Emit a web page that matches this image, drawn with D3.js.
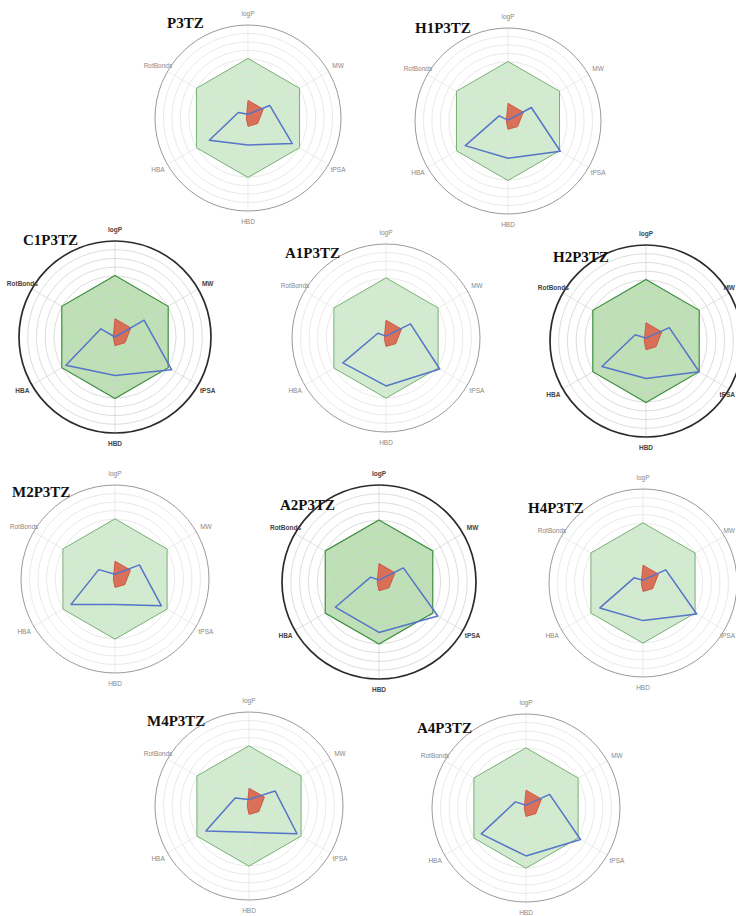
<!DOCTYPE html>
<html>
<head>
<meta charset="utf-8">
<script src="https://cdn.jsdelivr.net/npm/d3@7"></script>
<style>
  html, body { margin: 0; padding: 0; background: #fff; }
  svg { display: block; }
</style>
</head>
<body>
<svg id="chart" width="736" height="916"></svg>
<script>
// Property axes, clockwise from the top
const axes = ["logP", "MW", "tPSA", "HBD", "HBA", "RotBonds"];

// Compounds, one radar each
const compounds = ["P3TZ", "H1P3TZ", "C1P3TZ", "A1P3TZ", "H2P3TZ",
                   "M2P3TZ", "A2P3TZ", "H4P3TZ", "M4P3TZ", "A4P3TZ"];

// Normalised drug-likeness range (same for every compound)
const upperLimit = [0.64, 0.64, 0.64, 0.64, 0.64, 0.64];
const lowerLimit = [0.19, 0.19, 0.12, 0.09, 0.02, 0.02];

// Normalised compound profiles: logP, MW, tPSA, HBD, HBA, RotBonds
const profileP3TZ   = [0.04, 0.27, 0.55, 0.29, 0.48, 0.12];
const profileH1P3TZ = [0.01, 0.29, 0.65, 0.40, 0.53, 0.11];
const profileC1P3TZ = [0.00, 0.35, 0.68, 0.40, 0.59, 0.17];
const profileA1P3TZ = [0.02, 0.30, 0.66, 0.51, 0.53, 0.10];
const profileH2P3TZ = [0.03, 0.28, 0.64, 0.39, 0.53, 0.13];
const profileM2P3TZ = [0.05, 0.30, 0.57, 0.27, 0.54, 0.20];
const profileA2P3TZ = [0.02, 0.29, 0.70, 0.52, 0.52, 0.10];
const profileH4P3TZ = [0.03, 0.28, 0.66, 0.40, 0.53, 0.11];
const profileM4P3TZ = [0.07, 0.32, 0.59, 0.28, 0.53, 0.17];
const profileA4P3TZ = [0.03, 0.29, 0.67, 0.51, 0.55, 0.13];

const profiles = [profileP3TZ, profileH1P3TZ, profileC1P3TZ, profileA1P3TZ, profileH2P3TZ,
                  profileM2P3TZ, profileA2P3TZ, profileH4P3TZ, profileM4P3TZ, profileA4P3TZ];

// Panel placement: centre, radius and title anchor
const panelLayout = [
  { cx: 248, cy: 118, r: 93, tx: 167, ty: 28 },
  { cx: 508, cy: 121, r: 93, tx: 415, ty: 33 },
  { cx: 115, cy: 337, r: 96, tx: 23,  ty: 245 },
  { cx: 386, cy: 338, r: 94, tx: 285, ty: 258 },
  { cx: 646, cy: 341, r: 96, tx: 553, ty: 262 },
  { cx: 115, cy: 579, r: 94, tx: 12,  ty: 497 },
  { cx: 379, cy: 582, r: 97, tx: 280, ty: 510 },
  { cx: 643, cy: 583, r: 94, tx: 528, ty: 513 },
  { cx: 249, cy: 806, r: 94, tx: 147, ty: 726 },
  { cx: 526, cy: 808, r: 94, tx: 417, ty: 733 }
];

// Panels drawn with the heavier black frame
const heavyFrame = new Set(["C1P3TZ", "H2P3TZ", "A2P3TZ"]);

const W = 736;
const ringCount = 11;
const svg = d3.select("#chart");
const angle = d3.scalePoint().domain(axes).range([0, 2 * Math.PI * (axes.length - 1) / axes.length]);

compounds.forEach((name, i) => {
  const L = panelLayout[i];
  const heavy = heavyFrame.has(name);
  const r = d3.scaleLinear().domain([0, 1]).range([0, L.r]);
  const g = svg.append("g").attr("transform", `translate(${L.cx},${L.cy})`);

  const radial = d3.lineRadial()
    .angle((d, k) => angle(axes[k]))
    .radius(d => r(d))
    .curve(d3.curveLinearClosed);

  // upper-limit hexagon (below the grid)
  g.append("path")
    .attr("d", radial(upperLimit))
    .attr("fill", heavy ? "#b9dfb1" : "#cfeacb")
    .attr("fill-opacity", 0.95)
    .attr("stroke", "none");

  // grid rings and spokes
  d3.range(1, ringCount).forEach(k => {
    g.append("circle")
      .attr("r", r(k / ringCount))
      .attr("fill", "none")
      .attr("stroke", heavy ? "#cdcdcd" : "#e0e0e0")
      .attr("stroke-width", 0.7);
  });
  axes.forEach(a => {
    const t = angle(a);
    g.append("line")
      .attr("x1", 0).attr("y1", 0)
      .attr("x2", r(1) * Math.sin(t)).attr("y2", -r(1) * Math.cos(t))
      .attr("stroke", heavy ? "#d2d2d2" : "#e4e4e4")
      .attr("stroke-width", 0.7);
  });

  // upper-limit outline
  g.append("path")
    .attr("d", radial(upperLimit))
    .attr("fill", "none")
    .attr("stroke", heavy ? "#3f8f3f" : "#78b074")
    .attr("stroke-width", heavy ? 1.2 : 1);

  // lower-limit area
  g.append("path")
    .attr("d", radial(lowerLimit))
    .attr("fill", "#d9644c")
    .attr("fill-opacity", 0.9)
    .attr("stroke", "#c94a34")
    .attr("stroke-width", 0.8);

  // compound profile
  g.append("path")
    .attr("d", radial(profiles[i]))
    .attr("fill", "none")
    .attr("stroke", "#5674c8")
    .attr("stroke-width", 1.5)
    .attr("stroke-linejoin", "round");

  // frame
  g.append("circle")
    .attr("r", r(1))
    .attr("fill", "none")
    .attr("stroke", heavy ? "#2b2b2b" : "#9a9a9a")
    .attr("stroke-width", heavy ? 1.7 : 1);

  // axis labels (kept inside the page on the right edge)
  axes.forEach(a => {
    const t = angle(a);
    const d = r(1) + 11;
    const lbl = g.append("text")
      .attr("y", -d * Math.cos(t))
      .attr("dy", "0.35em")
      .attr("font-family", "Liberation Sans, Arial, sans-serif")
      .attr("font-size", 6.5)
      .attr("font-weight", heavy ? "bold" : "normal")
      .attr("fill", heavy ? "#444" : "#888")
      .text(a);
    let x = d * Math.sin(t);
    const half = lbl.node().getComputedTextLength() / 2;
    if (L.cx + x + half > W - 1) {
      lbl.attr("x", W - 1 - L.cx).attr("text-anchor", "end");
    } else {
      lbl.attr("x", x).attr("text-anchor", "middle");
    }
  });

  // title
  svg.append("text")
    .attr("x", L.tx)
    .attr("y", L.ty)
    .attr("font-family", "Liberation Serif, Times New Roman, serif")
    .attr("font-weight", "bold")
    .attr("font-size", 15)
    .attr("fill", "#111")
    .text(name);
});
</script>
</body>
</html>
